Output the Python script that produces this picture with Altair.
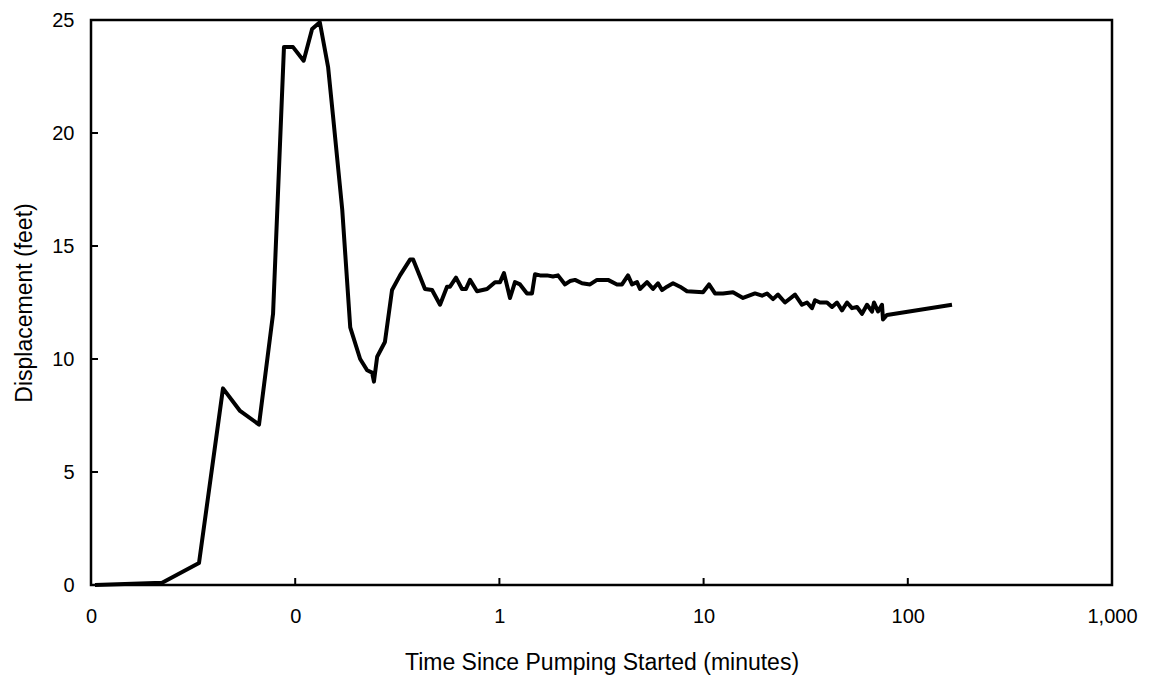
import altair as alt
import pandas as pd

# Elapsed time since pumping started (minutes) and displacement (feet)
minutes = [
    0.01046, 0.0223, 0.0338, 0.0443, 0.0537, 0.0665, 0.0779, 0.0881, 0.0976, 0.110,
    0.121, 0.132, 0.145, 0.153, 0.170, 0.186, 0.208, 0.225, 0.238, 0.243,
    0.252, 0.275, 0.298, 0.326, 0.365, 0.378, 0.432, 0.468, 0.512, 0.554,
    0.573, 0.613, 0.656, 0.686, 0.718, 0.777, 0.870, 0.952, 1.007, 1.053,
    1.127, 1.192, 1.262, 1.365, 1.444, 1.494, 1.581, 1.711, 1.830, 1.936,
    2.096, 2.217, 2.346, 2.538, 2.778, 3.006, 3.404, 3.766, 3.985, 4.264,
    4.461, 4.720, 4.882, 5.283, 5.652, 5.980, 6.256, 6.620, 7.084, 7.662,
    8.292, 9.933, 10.63, 11.37, 12.45, 13.93, 15.60, 17.85, 19.32, 20.45,
    21.88, 23.14, 25.04, 28.03, 30.33, 32.09, 33.96, 35.13, 37.15, 40.20,
    42.55, 45.00, 47.62, 50.39, 53.31, 56.41, 59.68, 63.13, 66.79, 68.32,
    71.47, 74.75, 75.60, 79.11, 164.6,
]
displacement_ft = [
    0.0, 0.1, 0.97, 8.7, 7.7, 7.1, 12.0, 23.8, 23.8, 23.2,
    24.6, 24.9, 22.9, 20.8, 16.6, 11.4, 10.0, 9.5, 9.4, 9.0,
    10.1, 10.75, 13.05, 13.7, 14.4, 14.4, 13.1, 13.05, 12.4, 13.2,
    13.2, 13.6, 13.1, 13.1, 13.5, 13.0, 13.1, 13.4, 13.4, 13.8,
    12.7, 13.4, 13.3, 12.9, 12.9, 13.75, 13.7, 13.7, 13.65, 13.7,
    13.3, 13.45, 13.5, 13.35, 13.3, 13.5, 13.5, 13.3, 13.3, 13.7,
    13.3, 13.4, 13.1, 13.4, 13.1, 13.35, 13.05, 13.2, 13.35, 13.2,
    13.0, 12.95, 13.3, 12.9, 12.9, 12.95, 12.7, 12.9, 12.8, 12.9,
    12.65, 12.85, 12.5, 12.85, 12.4, 12.5, 12.25, 12.6, 12.5, 12.5,
    12.3, 12.5, 12.15, 12.5, 12.25, 12.3, 12.0, 12.4, 12.1, 12.5,
    12.1, 12.4, 11.75, 11.95, 12.4,
]

x_label_values = [0.01, 0.1, 1, 10, 100, 1000]
x_tick_values = [0.1, 1, 10, 100]
y_label_values = [0, 5, 10, 15, 20, 25]
y_tick_values = [5, 10, 15, 20]

x_title = "Time Since Pumping Started (minutes)"
y_title = "Displacement (feet)"

df = pd.DataFrame({"minutes": minutes, "displacement": displacement_ft})
xt = pd.DataFrame({"minutes": x_tick_values})
yt = pd.DataFrame({"displacement": y_tick_values})

FONT = "Liberation Sans"
W, H = 1021, 565
TICK = 7
xscale = alt.Scale(type="log", domain=[0.01, 1000], nice=False)
yscale = alt.Scale(domain=[0, 25], nice=False, zero=False)

line = alt.Chart(df).mark_line(color="black", strokeWidth=4, strokeJoin="round").encode(
    x=alt.X(
        "minutes:Q",
        scale=xscale,
        axis=alt.Axis(
            orient="bottom",
            values=x_label_values,
            labelExpr="format(datum.value, ',.0f')",
            ticks=False,
            tickSize=0,
            domain=False,
            grid=False,
            labelFlush=False,
            labelFont=FONT,
            labelFontSize=20,
            labelColor="black",
            labelPadding=21,
            title=x_title,
            titleFont=FONT,
            titleFontSize=23,
            titleFontWeight="normal",
            titleColor="black",
            titlePadding=25,
        ),
    ),
    y=alt.Y(
        "displacement:Q",
        scale=yscale,
        axis=alt.Axis(
            orient="left",
            values=y_label_values,
            ticks=False,
            tickSize=0,
            domain=False,
            grid=False,
            labelFont=FONT,
            labelFontSize=20,
            labelColor="black",
            labelPadding=17,
            title=y_title,
            titleFont=FONT,
            titleFontSize=23,
            titleFontWeight="normal",
            titleColor="black",
            titlePadding=15,
        ),
    ),
)

# Inward-pointing tick marks along the bottom and left frame
x_ticks = alt.Chart(xt).mark_rule(color="black", strokeWidth=2).encode(
    x=alt.X("minutes:Q", scale=xscale),
    y=alt.value(H),
    y2=alt.value(H - TICK),
)
y_ticks = alt.Chart(yt).mark_rule(color="black", strokeWidth=2).encode(
    y=alt.Y("displacement:Q", scale=yscale),
    x=alt.value(0),
    x2=alt.value(TICK),
)

chart = (
    alt.layer(line, x_ticks, y_ticks)
    .properties(
        width=W,
        height=H,
        autosize=alt.AutoSizeParams(type="none"),
        padding={"left": 91, "top": 20, "right": 40, "bottom": 94},
        background="white",
    )
    .configure_view(stroke="black", strokeWidth=2.5)
)

chart.save("out.html", embed_options={"renderer": "svg", "actions": False})
